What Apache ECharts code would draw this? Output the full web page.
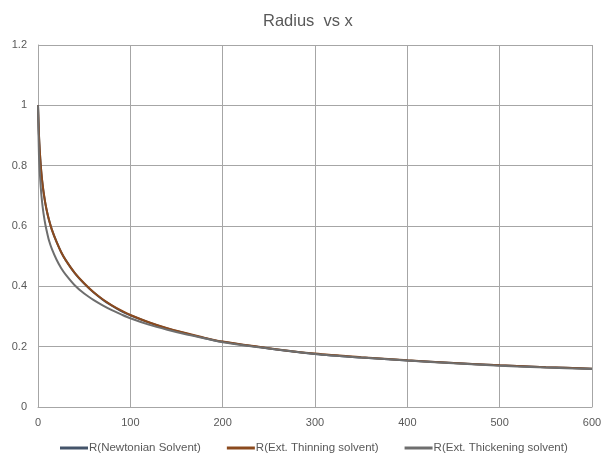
<!DOCTYPE html>
<html>
<head>
<meta charset="utf-8">
<script src="https://cdn.jsdelivr.net/npm/echarts@6/dist/echarts.min.js"></script>
<style>
html,body{margin:0;padding:0;background:#fff;}
#chart{width:605px;height:466px;}
</style>
</head>
<body>
<div id="chart"></div>
<script>
const xValues = [0,1,2,3,4,5,6,8,10,12,15,20,25,30,40,50,60,70,80,90,100,120,140,160,180,200,250,300,350,400,450,500,550,600];
const newtonian = [1.0,0.905,0.845,0.80,0.765,0.737,0.713,0.674,0.644,0.619,0.588,0.548,0.514,0.487,0.443,0.409,0.380,0.356,0.336,0.318,0.304,0.280,0.260,0.244,0.229,0.216,0.194,0.176,0.164,0.154,0.146,0.138,0.132,0.127];
const thinning  = [1.0,0.905,0.845,0.80,0.765,0.737,0.713,0.674,0.644,0.619,0.588,0.548,0.514,0.487,0.444,0.410,0.381,0.357,0.337,0.320,0.305,0.281,0.261,0.245,0.230,0.217,0.195,0.177,0.165,0.155,0.146,0.138,0.132,0.127];
const thickening = [1.0,0.84,0.775,0.728,0.692,0.664,0.641,0.604,0.576,0.551,0.524,0.489,0.461,0.439,0.403,0.376,0.355,0.337,0.321,0.307,0.294,0.273,0.256,0.241,0.228,0.215,0.194,0.176,0.164,0.154,0.145,0.137,0.131,0.126];
const seriesNames = ['R(Newtonian Solvent)','R(Ext. Thinning solvent)','R(Ext. Thickening solvent)'];
const seriesColors = ['#44546A','#8B4A1E','#6E6E6E'];
const allValues = [newtonian, thinning, thickening];

const pair = arr => xValues.map((x,i)=>[x,arr[i]]);
const chart = echarts.init(document.getElementById('chart'));
const font = 'Liberation Sans, Arial, sans-serif';
chart.setOption({
  animation:false,
  backgroundColor:'#fff',
  title:{text:'Radius  vs x',left:258,top:8,textStyle:{fontSize:16.5,fontWeight:'normal',color:'#595959',fontFamily:font}},
  grid:{left:38,right:13,top:45,bottom:59,containLabel:false},
  legend:{top:437,left:55,itemWidth:28,itemHeight:3,icon:'rect',itemGap:26,
    textStyle:{fontSize:11.5,color:'#595959',fontFamily:font,padding:[0,0,0,-4]},
    data:seriesNames},
  xAxis:{type:'value',min:0,max:600,interval:100,
    axisLine:{show:true,lineStyle:{color:'#a6a6a6'}},axisTick:{show:false},
    splitLine:{show:true,lineStyle:{color:'#a6a6a6',width:1}},
    axisLabel:{margin:10,fontSize:11,color:'#595959',fontFamily:font}},
  yAxis:{type:'value',min:0,max:1.2,interval:0.2,
    axisLine:{show:true,lineStyle:{color:'#a6a6a6'}},axisTick:{show:false},
    splitLine:{show:true,lineStyle:{color:'#a6a6a6',width:1}},
    axisLabel:{margin:11,fontSize:11,color:'#595959',fontFamily:font,
      formatter:v=>String(Math.round(v*10)/10)}},
  series:seriesNames.map((n,i)=>({name:n,type:'line',data:pair(allValues[i]),smooth:0.3,
    showSymbol:false,symbol:'none',color:seriesColors[i],lineStyle:{width:2,color:seriesColors[i]}}))
});
</script>
</body>
</html>
